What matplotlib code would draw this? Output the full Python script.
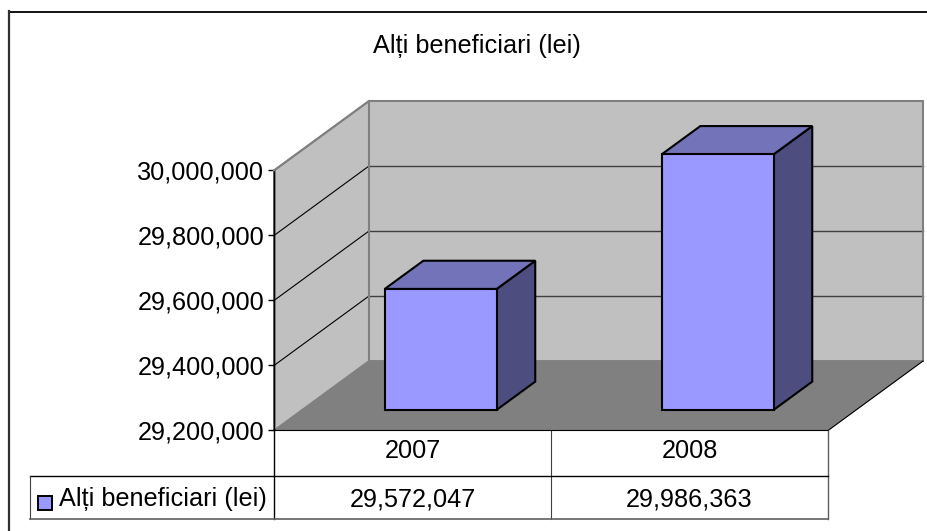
import matplotlib
matplotlib.use('Agg')
import matplotlib.pyplot as plt
from matplotlib.patches import Polygon, Rectangle

# --- DATA ---
years = ['2007', '2008']
values = [29572047, 29986363]
series_name = 'Alți beneficiari (lei)'
y_ticks = [29200000, 29400000, 29600000, 29800000, 30000000]
y_min = 29200000
y_max = 30000000

# --- CONFIGURATION (pixels of the 928x531 picture) ---
W, H = 928, 531
LEFT, RIGHT = 274, 828
TOP, BOTTOM = 170.5, 430.5
DEPTH_X, DEPTH_Y = 95, 69.5
FONT = 18.2
plt.rcParams['font.family'] = ['Liberation Sans', 'DejaVu Sans']

fig = plt.figure(figsize=(W / 100, H / 100), dpi=100, facecolor='white')

# page axes in pixels, for the frame and the table
page = fig.add_axes([0, 0, 1, 1])
page.set_xlim(0, W)
page.set_ylim(H, 0)
page.axis('off')

# front plane of the chart; everything else is projected back from it
ax = fig.add_axes([LEFT / W, 1 - BOTTOM / H, (RIGHT - LEFT) / W, (BOTTOM - TOP) / H])
ax.set_xlim(0, len(years))
ax.set_ylim(y_min, y_max)
ax.patch.set_visible(False)
for s in ['top', 'right', 'bottom']:
    ax.spines[s].set_visible(False)
ax.spines['left'].set_linewidth(1.0)
ax.set_xticks([])
ax.set_yticks(y_ticks)
ax.set_yticklabels([f'{v:,}' for v in y_ticks], fontsize=FONT, color='black')
ax.tick_params(axis='y', length=4, width=1.0, pad=3)

# depth in data units
dx = DEPTH_X / ((RIGHT - LEFT) / len(years))
dy = DEPTH_Y / ((BOTTOM - TOP) / (y_max - y_min))


def proj(x, v, d):
    return (x + d * dx, v + d * dy)


def face(pts, color, ec, lw, z):
    ax.add_patch(Polygon(pts, closed=True, facecolor=color, edgecolor=ec, linewidth=lw,
                         zorder=z, clip_on=False, joinstyle='miter'))


n = len(years)
# walls and floor
face([proj(0, y_min, 1), proj(n, y_min, 1), proj(n, y_max, 1), proj(0, y_max, 1)], '#C0C0C0', '#808080', 1.3, 1)
face([proj(0, y_min, 0), proj(0, y_min, 1), proj(0, y_max, 1), proj(0, y_max, 0)], '#C0C0C0', '#808080', 1.3, 1)
face([proj(0, y_min, 0), proj(n, y_min, 0), proj(n, y_min, 1), proj(0, y_min, 1)], '#808080', '#808080', 0.5, 2)

# gridlines, side wall then back wall
for v in y_ticks[1:-1]:
    ax.plot(*zip(proj(0, v, 0), proj(0, v, 1)), color='black', lw=0.8, zorder=3, clip_on=False)
    ax.plot(*zip(proj(0, v, 1), proj(n, v, 1)), color='#404040', lw=1.0, zorder=3, clip_on=False)
ax.plot(*zip(proj(0, y_min, 0), proj(0, y_max, 0)), color='black', lw=1.0, zorder=3, clip_on=False)
# wall outline over the gridlines
ax.plot(*zip(proj(0, y_max, 0), proj(0, y_max, 1), proj(n, y_max, 1), proj(n, y_min, 1)),
        color='#808080', lw=1.5, zorder=3.5, clip_on=False)
ax.plot(*zip(proj(0, y_min, 1), proj(0, y_max, 1)), color='#808080', lw=1.5, zorder=3.5, clip_on=False)
ax.plot(*zip(proj(n, y_min, 1), proj(n, y_min, 0), proj(0, y_min, 0)), color='black', lw=0.8, zorder=3.5, clip_on=False)

# bars
BAR_W = 0.404
D0, D1 = 0.297, 0.703
for i, v in enumerate(values):
    x0 = i + (1 - BAR_W) / 2
    x1 = x0 + BAR_W
    face([proj(x1, y_min, D0), proj(x1, y_min, D1), proj(x1, v, D1), proj(x1, v, D0)], '#4D4D80', 'black', 1.5, 5)
    face([proj(x0, v, D0), proj(x1, v, D0), proj(x1, v, D1), proj(x0, v, D1)], '#7373BA', 'black', 1.5, 5)
    face([proj(x0, y_min, D0), proj(x1, y_min, D0), proj(x1, v, D0), proj(x0, v, D0)], '#9999FF', 'black', 1.5, 6)

# title
page.text(477, 46.5, series_name, fontsize=FONT, ha='center', va='center', color='black')

# outer frame
page.plot([9, 927], [11.5, 11.5], color='black', lw=1.3)
page.plot([9, 9], [11, 530], color='#303030', lw=1.6)

# data table
ROW0, ROW1, ROW2 = 430.5, 476, 519
LEG_L = 30
MID = (LEFT + RIGHT) / 2
page.plot([LEFT, LEFT], [ROW0, ROW2], color='black', lw=1.0)
page.plot([MID, MID], [ROW0, ROW2], color='#404040', lw=0.8)
page.plot([RIGHT, RIGHT], [ROW0, ROW2], color='#606060', lw=1.0)
page.plot([LEG_L, RIGHT], [ROW1, ROW1], color='black', lw=1.0)
page.plot([LEG_L, LEG_L], [ROW1, ROW2], color='#404040', lw=0.8)
page.plot([LEG_L, RIGHT], [ROW2, ROW2], color='#606060', lw=1.2)
page.add_patch(Rectangle((38.5, 496), 13.5, 13.5, facecolor='#9999FF', edgecolor='black', linewidth=1.4))
page.text(59, 499, series_name, fontsize=FONT, ha='left', va='center', color='black')
for i, (yr, v) in enumerate(zip(years, values)):
    cx = LEFT + (i + 0.5) * (RIGHT - LEFT) / n
    page.text(cx, 451.5, yr, fontsize=FONT, ha='center', va='center', color='black')
    page.text(cx, 499, f'{v:,}', fontsize=FONT, ha='center', va='center', color='black')

fig.savefig('out.png', dpi=100)
